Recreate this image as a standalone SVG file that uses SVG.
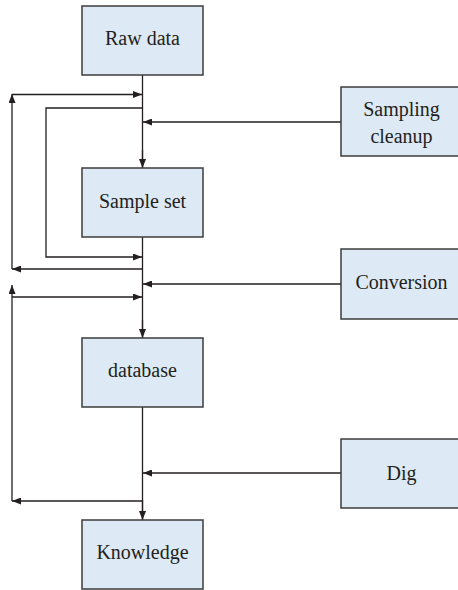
<svg xmlns="http://www.w3.org/2000/svg" width="458" height="590" viewBox="0 0 458 590">
<defs>
<style>
.box{fill:#dde9f4;stroke:#3c3c3c;stroke-width:1.5}
.lbl{font-family:"Liberation Serif","Times New Roman",serif;font-size:20px;fill:#231f20;text-anchor:middle}
.ln{fill:none;stroke:#231f20;stroke-width:1.3}
.ar{marker-end:url(#ah)}
</style>
<marker id="ah" markerUnits="userSpaceOnUse" markerWidth="10" markerHeight="7" refX="9" refY="3.5" orient="auto">
<path d="M0,0 L9,3.5 L0,7 z" fill="#231f20"/>
</marker>
</defs>
<rect width="458" height="590" fill="#ffffff"/>
<g id="connectors">
<line class="ln" x1="142.5" y1="75" x2="142.5" y2="168"/>
<line class="ln ar" x1="142.5" y1="150" x2="142.5" y2="168"/>
<line class="ln" x1="142.5" y1="237" x2="142.5" y2="338"/>
<line class="ln ar" x1="142.5" y1="320" x2="142.5" y2="338"/>
<line class="ln" x1="142.5" y1="407" x2="142.5" y2="520"/>
<line class="ln ar" x1="142.5" y1="500" x2="142.5" y2="520"/>
<line class="ln ar" x1="341" y1="122" x2="143" y2="122"/>
<line class="ln ar" x1="341" y1="284" x2="143" y2="284"/>
<line class="ln ar" x1="341" y1="473" x2="143" y2="473"/>
<polyline class="ln ar" points="142.5,108 46,108 46,257 142,257"/>
<line class="ln ar" x1="142.5" y1="269" x2="12" y2="269"/>
<line class="ln ar" x1="12" y1="269" x2="12" y2="94"/>
<line class="ln ar" x1="12" y1="94.5" x2="142" y2="94.5"/>
<line class="ln ar" x1="142.5" y1="501" x2="12" y2="501"/>
<line class="ln ar" x1="12" y1="501" x2="12" y2="285"/>
<line class="ln ar" x1="12" y1="297" x2="142" y2="297"/>
</g>
<g id="raw-data"><rect class="box" x="82" y="6" width="121" height="69"/><text class="lbl" x="142.5" y="45">Raw data</text></g>
<g id="sample-set"><rect class="box" x="82" y="168" width="121" height="69"/><text class="lbl" x="142.5" y="208">Sample set</text></g>
<g id="database"><rect class="box" x="82" y="338" width="121" height="69"/><text class="lbl" x="142.5" y="377">database</text></g>
<g id="knowledge"><rect class="box" x="82" y="520" width="121" height="69"/><text class="lbl" x="142.5" y="559">Knowledge</text></g>
<g id="sampling-cleanup"><rect class="box" x="341" y="87" width="121" height="69"/><text class="lbl" x="401.5" y="116">Sampling</text><text class="lbl" x="401.5" y="143">cleanup</text></g>
<g id="conversion"><rect class="box" x="341" y="249" width="121" height="70"/><text class="lbl" x="401.5" y="289">Conversion</text></g>
<g id="dig"><rect class="box" x="341" y="439" width="121" height="69"/><text class="lbl" x="401.5" y="480">Dig</text></g>
</svg>
